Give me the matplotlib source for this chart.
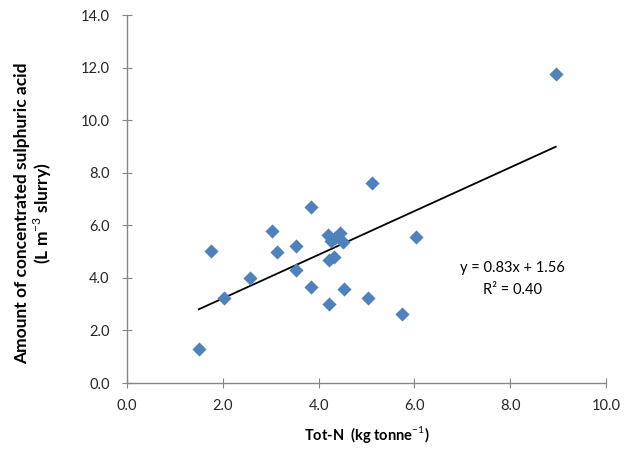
import matplotlib
matplotlib.use("Agg")
import matplotlib.pyplot as plt
import numpy as np

plt.rcParams['font.family'] = ['Lato', 'DejaVu Sans']
plt.rcParams['mathtext.fontset'] = 'custom'
plt.rcParams['mathtext.rm'] = 'Lato'
plt.rcParams['mathtext.bf'] = 'Lato:bold'

# Tot-N (kg tonne-1) vs acid amount (L m-3 slurry)
tot_n = [8.95, 5.11, 3.84, 3.03, 1.75, 6.03, 4.20, 4.45, 4.50, 4.25, 4.35,
         3.53, 3.13, 2.57, 2.03, 3.53, 4.22, 4.32, 3.84, 4.53, 4.22, 5.03,
         5.74, 1.50]
acid = [11.75, 7.60, 6.70, 5.78, 5.02, 5.55, 5.62, 5.70, 5.35, 5.40, 5.50,
        5.22, 4.98, 4.00, 3.22, 4.30, 4.68, 4.80, 3.65, 3.57, 3.00, 3.25,
        2.62, 1.30]

slope = 0.83
intercept = 1.56
r2 = 0.40

xticks = [0, 2, 4, 6, 8, 10]
yticks = [0, 2, 4, 6, 8, 10, 12, 14]

fig = plt.figure(figsize=(6.25, 4.55), dpi=100)
ax = fig.add_axes([0.2032, 0.1582, 0.7664, 0.8088])

ax.scatter(tot_n, acid, marker='D', s=52, color='#4F81BD', linewidths=0, zorder=3)

xl = np.array([min(tot_n), max(tot_n)])
ax.plot(xl, slope * xl + intercept, color='black', lw=1.3, zorder=2)

ax.text(8.05, 4.37, f"y = {slope:.2f}x + {intercept:.2f}", ha='center', va='center', fontsize=10.5)
ax.text(8.05, 3.55, f"R\u00b2 = {r2:.2f}", ha='center', va='center', fontsize=10.5)

ax.set_xlim(0, 10)
ax.set_ylim(0, 14)
ax.set_xticks(xticks)
ax.set_yticks(yticks)
ax.set_xticklabels([f"{v:.1f}" for v in xticks])
ax.set_yticklabels([f"{v:.1f}" for v in yticks])

for s in ['top', 'right']:
    ax.spines[s].set_visible(False)
for s in ['left', 'bottom']:
    ax.spines[s].set_color('#868686')
    ax.spines[s].set_linewidth(1.0)
ax.tick_params(colors='#868686', labelcolor='#262626', direction='inout', length=7, labelsize=10.5)
ax.tick_params(axis='x', pad=8)
ax.tick_params(axis='y', pad=9)

ax.set_xlabel("Tot-N  (kg tonne$^{-1}$)", fontsize=10.5, fontweight='bold', labelpad=8)
fig.text(0.054, 0.532, "Amount of concentrated sulphuric acid\n(L m$^{-3}$ slurry)",
         rotation=90, ha='center', va='center', fontsize=12.5, fontweight='bold',
         linespacing=1.05, multialignment='center')

fig.savefig("out.png", dpi=100)
